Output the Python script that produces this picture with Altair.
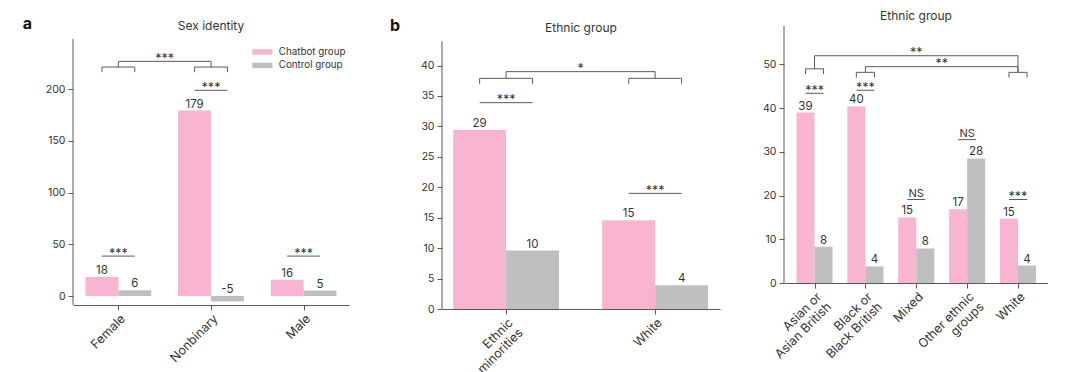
import json
import altair as alt
import pandas as pd

FONT = "Inter"
TEXT = "#333333"
LINE = "#5a5a5a"

groups = ["Chatbot group", "Control group"]
group_colors = ["#F9B4D2", "#BFBFBF"]

# ---- panel a : sex identity ----
sex_labels = [["Female"], ["Nonbinary"], ["Male"]]
sex_chatbot = [18.4, 179.4, 15.8]
sex_control = [5.6, -5.3, 5.3]
sex_within = [(0, 38.6, "***"), (1, 199.0, "***"), (2, 38.6, "***")]
sex_small = [(0, 221.5, 216.5), (1, 221.5, 216.5)]
sex_across = [(0, 1, 227.0, "***")]
sex_yticks = [0, 50, 100, 150, 200]

# ---- panel b : ethnic group (2) ----
eth2_labels = [["Ethnic", "minorities"], ["White"]]
eth2_chatbot = [29.4, 14.6]
eth2_control = [9.6, 3.9]
eth2_within = [(0, 33.9, "***"), (1, 19.0, "***")]
eth2_small = [(0, 37.9, 37.0), (1, 37.9, 37.0)]
eth2_across = [(0, 1, 39.0, "*")]
eth2_yticks = [0, 5, 10, 15, 20, 25, 30, 35, 40]

# ---- panel b (right) : ethnic group (5) ----
eth5_labels = [["Asian or", "Asian British"], ["Black or", "Black British"], ["Mixed"],
               ["Other ethnic", "groups"], ["White"]]
eth5_chatbot = [39.0, 40.4, 15.0, 16.9, 14.7]
eth5_control = [8.3, 3.8, 7.9, 28.5, 4.0]
eth5_within = [(0, 43.4, "***"), (1, 44.1, "***"), (2, 19.1, "NS"), (3, 32.8, "NS"), (4, 19.1, "***")]
eth5_small = [(0, 49.0, 47.8), (1, 48.2, 47.0), (4, 48.2, 47.0)]
eth5_across = [(0, 4, 52.0, "**"), (1, 4, 49.5, "**")]
eth5_yticks = [0, 10, 20, 30, 40, 50]

BW = 0.355  # bar width in category units


def panel(labels, chatbot, control, within, small, across, yticks, ydom, ytop, xdom,
          width, height, title, title_y, ytitle=None, title_pad=8,
          letter=None, letter_xy=(0, 0), legend=False, marker=(0, 0), bottom=50):
    n = len(labels)
    rows = []
    for i in range(n):
        for g, v in zip(groups, (chatbot[i], control[i])):
            x0 = i - BW if g == groups[0] else i
            rows.append(dict(idx=i, group=g, value=v, x0=x0, x1=x0 + BW,
                             xc=x0 + BW / 2, ylab=max(v, 0), lab=str(int(round(v)))))
    bars_df = pd.DataFrame(rows)

    segs, stars = [], []
    for i, y, s in within:
        segs.append(dict(x=i - BW / 2, x2=i + BW / 2, y=y, y2=y))
        stars.append(dict(x=i, y=y, s=s, ns=s == "NS"))
    tops = {}
    for i, top, leg in small:
        segs.append(dict(x=i - BW / 2, x2=i + BW / 2, y=top, y2=top))
        segs.append(dict(x=i - BW / 2, x2=i - BW / 2, y=top, y2=leg))
        segs.append(dict(x=i + BW / 2, x2=i + BW / 2, y=top, y2=leg))
        tops[i] = top
    for a, b, lvl, s in across:
        segs.append(dict(x=a, x2=a, y=tops[a], y2=lvl))
        segs.append(dict(x=b, x2=b, y=tops[b], y2=lvl))
        segs.append(dict(x=a, x2=b, y=lvl, y2=lvl))
        stars.append(dict(x=(a + b) / 2, y=lvl, s=s, ns=False))
    seg_df = pd.DataFrame(segs)
    star_df = pd.DataFrame(stars)

    xscale = alt.Scale(domain=xdom, nice=False, zero=False)
    yscale = alt.Scale(domain=ydom, nice=False, zero=False)
    label_expr = json.dumps(labels) + "[datum.value]"

    if legend:
        leg = alt.Legend(orient="none", legendX=184.5, legendY=21, title=None,
                         symbolType="M-3.33,-0.92H3.33V0.92H-3.33Z", symbolSize=36,
                         symbolStrokeWidth=0, labelFont=FONT, labelFontSize=9.8,
                         labelColor=TEXT, labelOffset=11.5, rowPadding=2.5, padding=0,
                         symbolOffset=0)
    else:
        leg = None

    bars = alt.Chart(bars_df).mark_rect().encode(
        x=alt.X("x0:Q", scale=xscale,
                axis=alt.Axis(values=list(range(n)), tickCount=n, labelExpr=label_expr,
                              labelAngle=-45, labelAlign="right", labelBaseline="top",
                              title=None, tickSize=5, labelPadding=2, labelOverlap=False,
                              labelFlush=False, labelLineHeight=14, labelFontSize=12.5)),
        x2="x1:Q",
        y=alt.Y("value:Q", scale=yscale,
                axis=alt.Axis(values=yticks, tickCount=len(yticks), title=ytitle,
                              titlePadding=title_pad, tickSize=5, labelPadding=3,
                              labelFlush=False, labelOverlap=False, domain=False)),
        y2=alt.datum(0),
        color=alt.Color("group:N", scale=alt.Scale(domain=groups, range=group_colors),
                        legend=leg),
    )
    one = alt.Data(values=[{}])
    yline = alt.Chart(one).mark_rule(color=LINE, strokeWidth=1).encode(
        x=alt.datum(xdom[0]), y=alt.datum(ydom[0]), y2=alt.datum(ytop))
    vals = alt.Chart(bars_df).mark_text(baseline="bottom", dy=-1, font=FONT, fontSize=11.5,
                                        color=TEXT).encode(
        x=alt.X("xc:Q", scale=xscale, title=None),
        y=alt.Y("ylab:Q", scale=yscale, title=None),
        text="lab:N",
    )
    rules = alt.Chart(seg_df).mark_rule(color=LINE, strokeWidth=1).encode(
        x=alt.X("x:Q", scale=xscale, title=None), x2="x2:Q",
        y=alt.Y("y:Q", scale=yscale, title=None), y2="y2:Q",
    )
    stars_only = star_df[~star_df["ns"]]
    ns_only = star_df[star_df["ns"]]
    star_txt = alt.Chart(stars_only).mark_text(baseline="alphabetic", dy=1.5, font=FONT,
                                               fontSize=12.5, color=TEXT).encode(
        x=alt.X("x:Q", scale=xscale, title=None),
        y=alt.Y("y:Q", scale=yscale, title=None),
        text="s:N",
    )
    layers = [bars, yline, vals, rules, star_txt]
    if len(ns_only):
        layers.append(alt.Chart(ns_only).mark_text(baseline="alphabetic", dy=-2.5, font=FONT,
                                                   fontSize=11, color=TEXT).encode(
            x=alt.X("x:Q", scale=xscale, title=None),
            y=alt.Y("y:Q", scale=yscale, title=None),
            text="s:N",
        ))
    layers.append(alt.Chart(one).mark_text(text=title, font=FONT, fontSize=12, color=TEXT,
                                           baseline="middle", align="center").encode(
        x=alt.value(width / 2), y=alt.value(title_y)))
    # invisible layout guides (top-left and bottom extent of the panel)
    layers.append(alt.Chart(one).mark_rule(strokeOpacity=0).encode(
        x=alt.value(marker[0]), x2=alt.value(marker[0] + 1), y=alt.value(marker[1])))
    layers.append(alt.Chart(one).mark_rule(strokeOpacity=0).encode(
        x=alt.value(0), x2=alt.value(1), y=alt.value(height + bottom)))
    if letter:
        layers.append(alt.Chart(one).mark_text(text=letter, font=FONT, fontSize=16,
                                               fontWeight="bold", color="#111111",
                                               baseline="alphabetic", align="center").encode(
            x=alt.value(letter_xy[0]), y=alt.value(letter_xy[1])))
    return alt.layer(*layers).properties(width=width, height=height)


# all plot areas start at page y = 26; axis lines stop at the reference's axis tops
pa = panel(sex_labels, sex_chatbot, sex_control, sex_within, sex_small, sex_across,
           sex_yticks, [-8.7, 261.2], 248.7, [-0.49, 2.49], 276, 279, "Sex identity", 0,
           ytitle="Percentage change", title_pad=8, letter="a", letter_xy=(-45.5, 3.3),
           legend=True, marker=(-65, -18))
pb = panel(eth2_labels, eth2_chatbot, eth2_control, eth2_within, eth2_small, eth2_across,
           eth2_yticks, [0, 46.5], 44, [-0.43, 1.435], 278, 283, "Ethnic group", 2.3,
           ytitle="Percentage change", title_pad=13, letter="b", letter_xy=(-47, 4.7),
           marker=(-82.7, -18), bottom=62)
pc = panel(eth5_labels, eth5_chatbot, eth5_control, eth5_within, eth5_small, eth5_across,
           eth5_yticks, [0, 58.8], 58.8, [-0.6, 4.59], 264, 257, "Ethnic group", -10.3,
           marker=(-53.8, -18))

chart = alt.hconcat(pa, pb, pc, spacing=10).resolve_scale(
    color="independent").properties(padding=0).configure_view(stroke=None).configure_axis(
    domainColor=LINE, tickColor=LINE, labelColor=TEXT, labelFont=FONT, labelFontSize=10.5,
    titleFont=FONT, titleFontSize=11.5, titleFontWeight="normal", titleColor=TEXT,
    grid=False, domainWidth=1, tickWidth=1)

chart.save("out.html", embed_options={"renderer": "svg", "actions": False})
